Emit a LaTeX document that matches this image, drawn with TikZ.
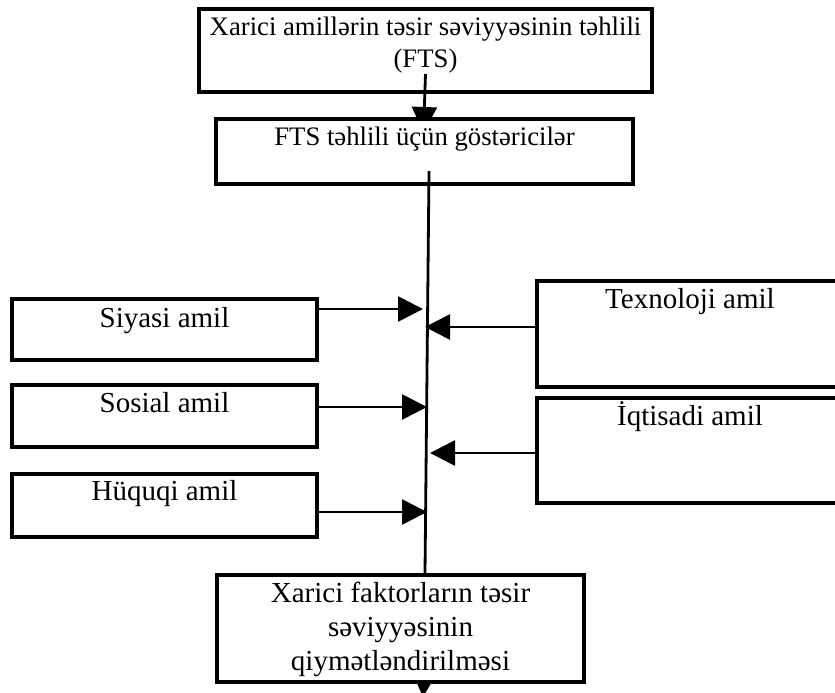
\documentclass[tikz,border=0pt]{standalone}
\usepackage{fontspec}
\setmainfont{Liberation Serif}
\usetikzlibrary{arrows.meta,backgrounds,calc}
\begin{document}
\begin{tikzpicture}[x=1pt,y=-1pt,
  rbox/.style 2 args={draw, line width=4pt, fill=white, rectangle, inner sep=0pt,
    anchor=north west, minimum width=#1, minimum height=#2},
  lblA/.style={inner sep=0pt, anchor=base, align=center, font=\fontsize{26.7}{32}\selectfont},
  lblB/.style={inner sep=0pt, anchor=base, align=center, font=\fontsize{29}{34}\selectfont},
  ln/.style={line width=2.8pt},
  arr/.style={line width=2.8pt, -{Triangle[length=25pt,width=25pt]}}
]
\useasboundingbox (0,0) rectangle (835,693);

% boxes
\node[rbox={453}{83}, fill=none] (top) at (197,7) {};
\node[rbox={417}{65}] (fts) at (214,117) {};
\node[rbox={305}{61}] (siy) at (10,297) {};
\node[rbox={305}{62}] (sos) at (10,383) {};
\node[rbox={305}{63}] (huq) at (10,472) {};
\node[rbox={306}{106}] (tex) at (535,279) {};
\node[rbox={306}{105}] (iqt) at (535,396) {};
\node[rbox={367}{107}] (bot) at (215,573) {};

% texts (base = last line's baseline)
\node[lblA] (ttop) at ($(top.north)+(0,60)$) {Xarici amillərin təsir səviyyəsinin təhlili\\(FTS)};
\node[lblA] (tfts) at ($(fts.north)+(0,28)$) {FTS təhlili üçün göstəricilər};
\node[lblB] (tsiy) at ($(siy.north)+(0,30)$) {Siyasi amil};
\node[lblB] (tsos) at ($(sos.north)+(0,29)$) {Sosial amil};
\node[lblB] (thuq) at ($(huq.north)+(0,28)$) {Hüquqi amil};
\node[lblB] (ttex) at ($(tex.north)+(0,29)$) {Texnoloji amil};
\node[lblB] (tiqt) at ($(iqt.north)+(0,29)$) {İqtisadi amil};
\node[lblB] (tbot) at ($(bot.north)+(0,97)$) {Xarici faktorların təsir\\səviyyəsinin\\qiymətləndirilməsi};

% hidden arrow tips
\coordinate (a1tip) at (423.5,132);
\coordinate (btip) at (423,697);
\begin{scope}[on background layer]
  \draw[arr] ([yshift=20pt]top.south) -- (a1tip);
  \draw[arr] ([xshift=24.5pt,yshift=20pt]bot.south) -- (btip);
\end{scope}

% spine
\draw[ln] ([xshift=4.5pt,yshift=15pt]fts.south) -- ([xshift=24.5pt]bot.north);

% side arrows
\coordinate (t1) at (423,309);
\coordinate (t2) at (425,327);
\coordinate (t3) at (427,407);
\coordinate (t4) at (430,453);
\coordinate (t5) at (427,512);
\draw[arr] (t1 -| siy.east) -- (t1);
\draw[arr] (t2 -| tex.west) -- (t2);
\draw[arr] (t3 -| sos.east) -- (t3);
\draw[arr] (t4 -| iqt.west) -- (t4);
\draw[arr] (t5 -| huq.east) -- (t5);
\end{tikzpicture}
\end{document}
